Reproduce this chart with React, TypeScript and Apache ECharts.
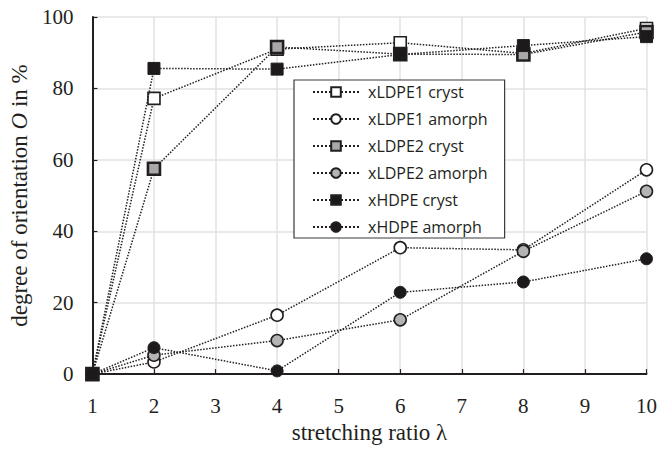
import React, { useEffect, useRef } from "react";
import * as echarts from "echarts";

const lambdaValues = [1, 2, 4, 6, 8, 10];
const seriesNames = [
  "xLDPE1 cryst",
  "xLDPE1 amorph",
  "xLDPE2 cryst",
  "xLDPE2 amorph",
  "xHDPE cryst",
  "xHDPE amorph",
];
const xldpe1Cryst = [0, 77.2, 91.0, 92.8, 89.8, 96.8];
const xldpe1Amorph = [0, 3.4, 16.5, 35.4, 34.8, 57.2];
const xldpe2Cryst = [0, 57.5, 91.6, 89.6, 89.5, 95.8];
const xldpe2Amorph = [0, 5.3, 9.4, 15.2, 34.4, 51.2];
const xhdpeCryst = [0, 85.6, 85.4, 89.5, 92.0, 94.5];
const xhdpeAmorph = [0, 7.4, 0.9, 22.9, 25.8, 32.3];

const seriesValues = [xldpe1Cryst, xldpe1Amorph, xldpe2Cryst, xldpe2Amorph, xhdpeCryst, xhdpeAmorph];
const seriesSymbols = ["rect", "circle", "rect", "circle", "rect", "circle"];
const seriesFills = ["#ffffff", "#ffffff", "#a9a9a9", "#b4b4b4", "#1c1a1b", "#1c1a1b"];
const seriesBorderWidths = [1.6, 1.6, 2.6, 1.6, 1, 1];

export default function App() {
  const ref = useRef<HTMLDivElement>(null);
  useEffect(() => {
    if (!ref.current) return;
    const chart = echarts.init(ref.current, null, { renderer: "svg" });
    const serif = "'Liberation Serif', 'Times New Roman', serif";
    chart.setOption({
      animation: false,
      backgroundColor: "#ffffff",
      grid: { left: 90, right: 13, top: 17, bottom: 65, containLabel: false },
      xAxis: {
        type: "value",
        min: 1,
        max: 10,
        interval: 1,
        name: "stretching ratio λ",
        nameLocation: "middle",
        nameGap: 46,
        nameTextStyle: { fontFamily: serif, fontSize: 23, color: "#231f20" },
        axisLine: { show: true, onZero: false, lineStyle: { color: "#231f20", width: 2 } },
        axisTick: { show: true, inside: true, length: 5, lineStyle: { color: "#231f20", width: 1.2 } },
        axisLabel: { fontFamily: serif, fontSize: 21, color: "#231f20", margin: 21 },
        splitLine: { show: true, lineStyle: { color: "#e2e2e2", width: 1.5 } },
      },
      yAxis: {
        type: "value",
        min: 0,
        max: 100,
        interval: 20,
        name: "degree of orientation {i|O} in %",
        nameLocation: "middle",
        nameGap: 57,
        nameRotate: 90,
        nameTextStyle: {
          fontFamily: serif,
          fontSize: 23,
          color: "#231f20",
          rich: { i: { fontFamily: serif, fontSize: 23, fontStyle: "italic", color: "#231f20" } },
        },
        axisLine: { show: true, lineStyle: { color: "#231f20", width: 2 } },
        axisTick: { show: true, inside: true, length: 5, lineStyle: { color: "#231f20", width: 1.2 } },
        axisLabel: { fontFamily: serif, fontSize: 21, color: "#231f20", margin: 19 },
        splitLine: { show: true, lineStyle: { color: "#e2e2e2", width: 1.5 } },
      },
      legend: {
        orient: "vertical",
        left: 294,
        top: 80,
        backgroundColor: "#ffffff",
        borderColor: "#3a3a3a",
        borderWidth: 1.2,
        borderRadius: 0,
        padding: [4, 17, 3, 18],
        itemWidth: 46,
        itemHeight: 12,
        itemGap: 11,
        textStyle: { fontFamily: "'Open Sans', sans-serif", fontSize: 16, color: "#231f20", padding: [0, 0, 0, 4] },
        data: seriesNames,
      },
      series: seriesNames.map((name, i) => ({
        name,
        type: "line",
        data: lambdaValues.map((x, j) => [x, seriesValues[i][j]]),
        symbol: seriesSymbols[i],
        symbolSize: 12,
        showSymbol: true,
        clip: false,
        lineStyle: { color: "#231f20", width: 1.5, type: "dotted" },
        itemStyle: { color: seriesFills[i], borderColor: "#231f20", borderWidth: seriesBorderWidths[i], opacity: 1 },
        emphasis: { disabled: true },
        z: 2 + i,
      })),
    });
    return () => chart.dispose();
  }, []);
  return (
    <div
      ref={ref}
      style={{ position: "fixed", left: 0, top: 0, width: 660, height: 449 }}
    />
  );
}
